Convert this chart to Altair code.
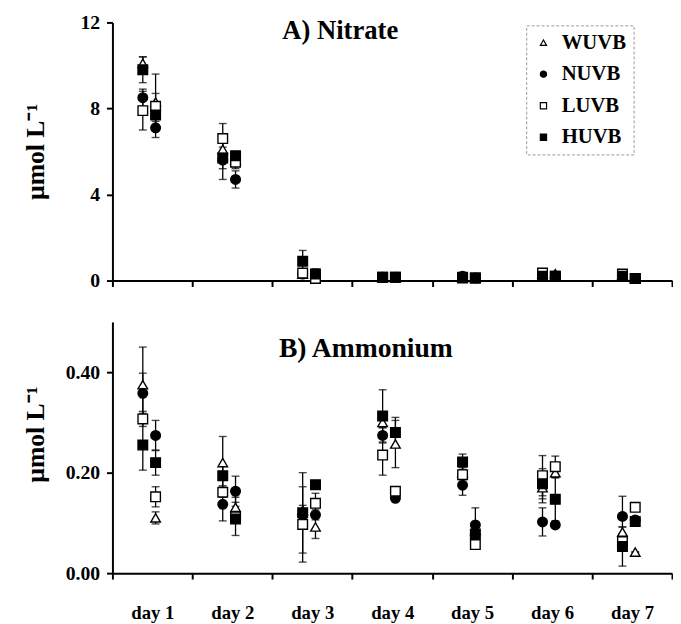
import json
import altair as alt
import pandas as pd

days = ["day 1", "day 2", "day 3", "day 4", "day 5", "day 6", "day 7"]
sample_fraction = [0.38, 0.54]  # two samplings per day (fraction of the day)
treatments = ["WUVB", "NUVB", "LUVB", "HUVB"]

# Nitrate (µmol L-1): day1 s1, day1 s2, day2 s1, day2 s2, ... day7 s2
nitrate_WUVB = [10.1, 8.3, 6.1, 5.6, 0.3, 0.2, 0.15, 0.15, 0.15, 0.12, 0.3, 0.32, 0.25, 0.1]
nitrate_NUVB = [8.5, 7.1, 5.6, 4.7, 0.3, 0.25, 0.15, 0.15, 0.2, 0.12, 0.2, 0.2, 0.2, 0.1]
nitrate_LUVB = [7.9, 8.1, 6.6, 5.5, 0.35, 0.1, 0.15, 0.15, 0.15, 0.12, 0.35, 0.2, 0.3, 0.1]
nitrate_HUVB = [9.8, 7.7, 5.7, 5.8, 0.9, 0.3, 0.15, 0.15, 0.12, 0.12, 0.2, 0.2, 0.2, 0.1]
nitrate_err_WUVB = [0.3, 1.3, 0.6, 0.3, 0.1, 0.1, 0.05, 0.05, 0.05, 0.05, 0.05, 0.05, 0.05, 0.0]
nitrate_err_NUVB = [0.4, 0.45, 0.9, 0.4, 0.1, 0.1, 0.05, 0.05, 0.05, 0.05, 0.05, 0.05, 0.05, 0.0]
nitrate_err_LUVB = [0.9, 0.6, 0.7, 0.3, 0.1, 0.1, 0.05, 0.05, 0.05, 0.05, 0.05, 0.05, 0.05, 0.0]
nitrate_err_HUVB = [0.6, 0.3, 0.5, 0.2, 0.5, 0.25, 0.05, 0.05, 0.05, 0.05, 0.05, 0.05, 0.05, 0.0]

# Ammonium (µmol L-1)
ammonium_WUVB = [0.375, 0.110, 0.220, 0.131, 0.125, 0.092, 0.300, 0.257, 0.200, 0.085, 0.170, 0.200, 0.082, 0.042]
ammonium_NUVB = [0.358, 0.274, 0.137, 0.163, 0.115, 0.116, 0.274, 0.149, 0.175, 0.096, 0.102, 0.096, 0.113, 0.106]
ammonium_LUVB = [0.307, 0.152, 0.161, 0.112, 0.097, 0.139, 0.235, 0.163, 0.196, 0.057, 0.194, 0.212, 0.063, 0.131]
ammonium_HUVB = [0.255, 0.220, 0.194, 0.108, 0.120, 0.176, 0.313, 0.280, 0.221, 0.078, 0.178, 0.147, 0.053, 0.103]
ammonium_err_WUVB = [0.075, 0.012, 0.052, 0.020, 0.010, 0.023, 0.010, 0.047, 0.010, 0.010, 0.030, 0.010, 0.010, 0.0]
ammonium_err_NUVB = [0.040, 0.030, 0.033, 0.030, 0.010, 0.010, 0.015, 0.005, 0.020, 0.034, 0.028, 0.005, 0.040, 0.0]
ammonium_err_LUVB = [0.015, 0.020, 0.010, 0.010, 0.075, 0.020, 0.040, 0.005, 0.010, 0.005, 0.040, 0.021, 0.010, 0.0]
ammonium_err_HUVB = [0.050, 0.025, 0.020, 0.033, 0.080, 0.005, 0.052, 0.030, 0.016, 0.010, 0.030, 0.043, 0.039, 0.0]

panel_titles = ["A) Nitrate", "B) Ammonium"]
title_pos_x = [2.85, 3.17]
title_pos_y = [11.6, 0.445]


def build(vals_by_tr, errs_by_tr):
    rows = []
    for tr in treatments:
        for i, (v, e) in enumerate(zip(vals_by_tr[tr], errs_by_tr[tr])):
            d, s = divmod(i, 2)
            rows.append(dict(treatment=tr, x=d + sample_fraction[s], value=v,
                             lo=max(v - e, 0), hi=v + e))
    return pd.DataFrame(rows)


nitrate_df = build(
    {"WUVB": nitrate_WUVB, "NUVB": nitrate_NUVB, "LUVB": nitrate_LUVB, "HUVB": nitrate_HUVB},
    {"WUVB": nitrate_err_WUVB, "NUVB": nitrate_err_NUVB, "LUVB": nitrate_err_LUVB, "HUVB": nitrate_err_HUVB},
)
ammonium_df = build(
    {"WUVB": ammonium_WUVB, "NUVB": ammonium_NUVB, "LUVB": ammonium_LUVB, "HUVB": ammonium_HUVB},
    {"WUVB": ammonium_err_WUVB, "NUVB": ammonium_err_NUVB, "LUVB": ammonium_err_LUVB, "HUVB": ammonium_err_HUVB},
)

FONT = "Liberation Serif"
W = 568
x_values = [i * 0.5 for i in range(15)]
label_expr = "datum.value % 1 ? " + json.dumps(days) + "[floor(datum.value)] : ''"


def x_enc(field, show_labels):
    return alt.X(
        f"{field}:Q",
        scale=alt.Scale(domain=[0, 7], nice=False, zero=False),
        axis=alt.Axis(
            values=x_values,
            labels=show_labels,
            labelExpr=label_expr,
            labelOverlap=False,
            labelFlush=False,
            labelPadding=25,
            labelFontSize=19,
            tickOpacity={"condition": {"test": "datum.value % 1 != 0", "value": 0}, "value": 1},
            grid=False,
            title=None,
        ),
    )


def y_enc(field, domain, values, fmt, title_y):
    return alt.Y(
        f"{field}:Q",
        scale=alt.Scale(domain=domain, nice=False, zero=True),
        axis=alt.Axis(
            values=values,
            format=fmt,
            grid=False,
            title="µmol L⁻¹",
            titleFontSize=26,
            titleX=-78,
            titleY=title_y,
            titleAngle=270,
            titleAlign="center",
            titleBaseline="middle",
            labelPadding=7,
            labelFontSize=20,
        ),
    )


legend = alt.Legend(title=None, symbolStrokeColor="black", symbolStrokeWidth=1.2)


def panel(df, idx, domain, values, fmt, height, title_y, show_labels, title_size):
    base = alt.Chart(df)
    rules = base.mark_rule(color="black", strokeWidth=1.3).encode(
        x=x_enc("x", show_labels), y=y_enc("lo", domain, values, fmt, title_y), y2="hi:Q"
    )
    cap_hi = base.mark_tick(orient="horizontal", color="black", size=8, thickness=1.4).encode(
        x=x_enc("x", show_labels), y=y_enc("hi", domain, values, fmt, title_y)
    )
    cap_lo = base.mark_tick(orient="horizontal", color="black", size=8, thickness=1.4).encode(
        x=x_enc("x", show_labels), y=y_enc("lo", domain, values, fmt, title_y)
    )
    pts = base.mark_point(filled=False, strokeWidth=1.4, opacity=1, size=95).encode(
        x=x_enc("x", show_labels),
        y=y_enc("value", domain, values, fmt, title_y),
        shape=alt.Shape("treatment:N", scale=alt.Scale(domain=treatments,
                        range=["triangle-up", "circle", "square", "square"]), legend=legend),
        fill=alt.Fill("treatment:N", scale=alt.Scale(domain=treatments,
                      range=["white", "black", "white", "black"]), legend=legend),
        stroke=alt.Stroke("treatment:N", scale=alt.Scale(domain=treatments,
                          range=["black", "black", "black", "black"]), legend=legend),
    )
    tdf = pd.DataFrame({"x": [title_pos_x[idx]], "value": [title_pos_y[idx]], "label": [panel_titles[idx]]})
    txt = alt.Chart(tdf).mark_text(font=FONT, fontWeight="bold", fontSize=title_size, color="black").encode(
        x=x_enc("x", show_labels), y=y_enc("value", domain, values, fmt, title_y), text="label:N"
    )
    return alt.layer(rules, cap_hi, cap_lo, pts, txt).properties(width=W, height=height)


top = panel(nitrate_df, 0, [0, 12], [0, 4, 8, 12], "d", 262, 131, False, 27)
bottom = panel(ammonium_df, 1, [0, 0.5], [0, 0.2, 0.4], ".2f", 255, 114, True, 28)

chart = (
    alt.vconcat(top, bottom, spacing=32)
    .properties(padding={"left": 15, "top": 0, "right": 0, "bottom": 0})
    .configure_view(stroke=None)
    .configure_axis(
        domainColor="black", domainWidth=2, tickColor="black", tickWidth=2, tickSize=6,
        labelFont=FONT, labelFontWeight="bold", labelColor="black",
        titleFont=FONT, titleFontWeight="bold", titleColor="black",
    )
    .configure_legend(
        orient="none", legendX=420, legendY=3,
        strokeColor="#999", strokeDash=[3, 2], strokeWidth=1, padding=7,
        labelFont=FONT, labelFontWeight="bold", labelFontSize=21, labelColor="black",
        symbolSize=40, symbolStrokeColor="black", symbolStrokeWidth=1.2,
        rowPadding=10, labelOffset=8,
    )
)

chart.save("out.html", embed_options={"renderer": "svg", "actions": False})
